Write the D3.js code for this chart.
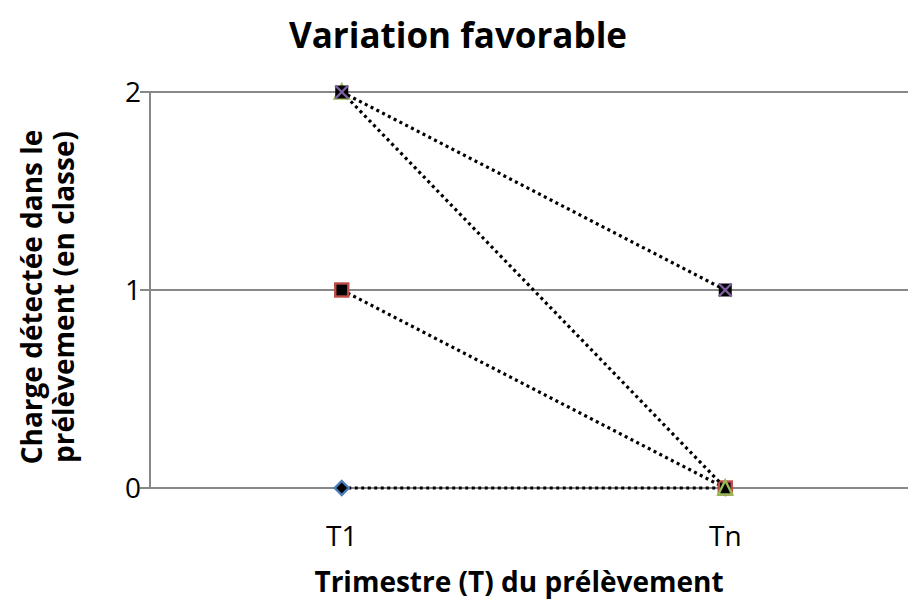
<!DOCTYPE html>
<html>
<head>
<meta charset="utf-8">
<script src="https://cdn.jsdelivr.net/npm/d3@7"></script>
<style>
  body { margin: 0; background: #fff; }
  svg { display: block; }
  text { font-family: "Open Sans", "Noto Sans", sans-serif; }
</style>
</head>
<body>
<svg id="chart" width="908" height="600"></svg>
<script>
// Quarters on the x axis and sample charge class for each series
const categories = ["T1", "Tn"];
const serie1 = [0, 0];
const serie2 = [1, 0];
const serie3 = [2, 0];
const serie4 = [2, 1];
const yTicks = [0, 1, 2];

const series = [
  { values: serie1, marker: "diamond", stroke: "#4a7ebb" },
  { values: serie2, marker: "square", stroke: "#be4b48" },
  { values: serie3, marker: "triangle", stroke: "#98b954" },
  { values: serie4, marker: "cross", stroke: "#7d60a0" }
];

const svg = d3.select("#chart");
const margin = { left: 150, top: 92, bottom: 488, right: 917 };

const x = d3.scaleBand().domain(categories).range([margin.left, margin.right]);
const y = d3.scaleLinear().domain([0, 2]).range([margin.bottom, margin.top]);
const cx = c => x(c) + x.bandwidth() / 2;

// Horizontal gridlines
svg.append("g").selectAll("line").data(yTicks).join("line")
  .attr("x1", margin.left - 10).attr("x2", 908)
  .attr("y1", d => y(d)).attr("y2", d => y(d))
  .attr("stroke", "#888").attr("stroke-width", 2);

// Vertical value axis
svg.append("line")
  .attr("x1", margin.left).attr("x2", margin.left)
  .attr("y1", y(2)).attr("y2", y(0))
  .attr("stroke", "#888").attr("stroke-width", 2);

// Y tick labels
svg.append("g").selectAll("text").data(yTicks).join("text")
  .attr("x", 141).attr("y", d => y(d))
  .attr("dy", "0.36em").attr("text-anchor", "end")
  .attr("font-size", 28).text(d => d);

// X tick labels
svg.append("g").selectAll("text").data(categories).join("text")
  .attr("x", d => cx(d)).attr("y", 546)
  .attr("text-anchor", "middle").attr("font-size", 28).text(d => d);

const line = d3.line().x((d, i) => cx(categories[i])).y(d => y(d));

// Each series: dotted connector, then its markers
series.forEach(s => {
  svg.append("path").datum(s.values)
    .attr("d", line).attr("fill", "none")
    .attr("stroke", "#000").attr("stroke-width", 3.2)
    .attr("stroke-dasharray", "3,3.5");

  const g = svg.append("g");
  s.values.forEach((v, i) => {
    const px = cx(categories[i]), py = y(v);
    if (s.marker === "diamond") {
      g.append("path").attr("d", `M${px},${py - 7}L${px + 7},${py}L${px},${py + 7}L${px - 7},${py}Z`)
        .attr("fill", "#000").attr("stroke", s.stroke).attr("stroke-width", 2.4);
    } else if (s.marker === "square") {
      g.append("rect").attr("x", px - 6.5).attr("y", py - 6.5).attr("width", 13).attr("height", 13)
        .attr("fill", "#000").attr("stroke", s.stroke).attr("stroke-width", 2.4);
    } else if (s.marker === "triangle") {
      g.append("path").attr("d", `M${px},${py - 7.5}L${px + 7},${py + 6.5}L${px - 7},${py + 6.5}Z`)
        .attr("fill", "#000").attr("stroke", s.stroke).attr("stroke-width", 2.4);
    } else {
      g.append("rect").attr("x", px - 6.5).attr("y", py - 6.5).attr("width", 13).attr("height", 13)
        .attr("fill", "#000");
      g.append("path").attr("d", `M${px - 6.5},${py - 6.5}L${px + 6.5},${py + 6.5}M${px + 6.5},${py - 6.5}L${px - 6.5},${py + 6.5}`)
        .attr("stroke", s.stroke).attr("stroke-width", 2.4);
    }
  });
});

// Titles
svg.append("text").attr("x", 458).attr("y", 48)
  .attr("text-anchor", "middle").attr("font-size", 35).attr("font-weight", "bold")
  .text("Variation favorable");

svg.append("text").attr("x", 519).attr("y", 592)
  .attr("text-anchor", "middle").attr("font-size", 28).attr("font-weight", "bold")
  .text("Trimestre (T) du prélèvement");

const yt = svg.append("text").attr("transform", "translate(0,297) rotate(-90)")
  .attr("text-anchor", "middle").attr("font-size", 28).attr("font-weight", "bold");
yt.append("tspan").attr("x", 0).attr("y", 42).text("Charge détectée dans le");
yt.append("tspan").attr("x", 0).attr("y", 74).text("prélèvement (en classe)");
</script>
</body>
</html>
